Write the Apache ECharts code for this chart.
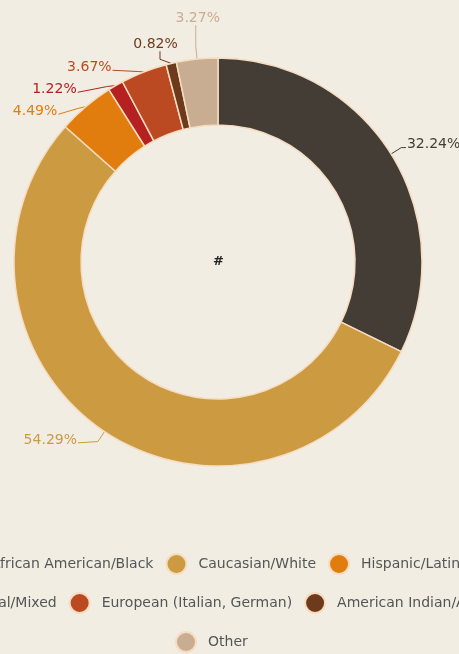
<!DOCTYPE html>
<html>
<head>
<meta charset="utf-8">
<script src="https://cdn.jsdelivr.net/npm/echarts@6/dist/echarts.min.js"></script>
<style>
html,body{margin:0;padding:0;background:#f1ede3;}
#chart{width:459px;height:654px;}
</style>
</head>
<body>
<div id="chart"></div>
<script>
const categories = ["African American/Black","Caucasian/White","Hispanic/Latino","Multiracial/Mixed","European (Italian, German)","American Indian/Alaska Native","Other"];
const values = [32.24, 54.29, 4.49, 1.22, 3.67, 0.82, 3.27];
const colors = ["#443d35","#cc9a40","#e17c0e","#b52020","#bb4a22","#6e3a1c","#c8ad92"];
const legendRows = [[0,1,2],[3,4,5],[6]];

const chart = echarts.init(document.getElementById('chart'), null, {renderer:'canvas'});
const FONT = '"DejaVu Sans", Verdana, sans-serif';
const legendLeft = [-42, -95, 175];
const legendTop = [553, 592, 631];
// label-line styling per slice (lengths only)
const lineLen = [14, 10, 12, 16, 22, 28, 40];
const lineLen2 = [2, 20, 6, 6, 6, 4, 2];
const bendLen = [12, 12, 8, 8, 6, 12, 13];
// small nudges of the labels
const labelDx = [0, 0, 18, 22, 36, 67, 31];
const labelDy = [-2, 0, -4, -2, 0, 1, -1];

const legends = legendRows.map((row, i) => ({
  data: row.map(k => categories[k]),
  orient: 'horizontal',
  left: legendLeft[i],
  top: legendTop[i],
  width: 900,
  padding: 0,
  icon: 'circle',
  itemWidth: 20,
  itemHeight: 20,
  itemGap: 12,
  textStyle: {fontFamily: FONT, fontSize: 14, color: '#555', padding: [0,0,0,7]}
}));

chart.setOption({
  backgroundColor: '#f1ede3',
  color: colors,
  animation: false,
  legend: legends,
  graphic: [{
    type: 'text', left: 213, top: 255,
    style: {text: '#', fontFamily: FONT, fontSize: 13, fontWeight: 'bold', fill: '#222'}
  }],
  series: [{
    type: 'pie',
    center: [218, 262],
    radius: [137, 204],
    startAngle: 90,
    clockwise: true,
    avoidLabelOverlap: true,
    itemStyle: {borderColor: '#f6dcc0', borderWidth: 1.5},
    label: {
      show: true,
      formatter: p => p.value.toFixed(2) + '%',
      fontFamily: FONT,
      fontSize: 14,
      lineHeight: 22,
      color: 'inherit',
      overflow: 'none',
      distanceToLabelLine: 2
    },
    labelLine: {show: true, length: 12, length2: 6, smooth: false, lineStyle: {width: 1}},
    labelLayout: p => {
      const i = p.dataIndex;
      const dx = labelDx[i], dy = labelDy[i];
      const r = p.labelRect, pts = p.labelLinePoints;
      const res = {dx: dx, dy: dy};
      if (!pts) return res;
      const p0 = pts[0], p1 = pts[1];
      const vx = p1[0] - p0[0], vy = p1[1] - p0[1];
      const len = Math.hypot(vx, vy) || 1;
      const b = [p0[0] + vx / len * bendLen[i], p0[1] + vy / len * bendLen[i]];
      const left = r.x + dx, right = left + r.width, cy = r.y + dy + r.height / 2;
      let e;
      if (b[0] > right) e = [right + 1, cy + 3];
      else if (b[0] < left) e = [left - 1, cy + 3];
      else e = [b[0], cy + 7];
      res.labelLinePoints = [p0, b, e];
      return res;
    },
    emphasis: {disabled: true},
    data: categories.map((c, i) => ({
      name: c, value: values[i],
      labelLine: {length: lineLen[i], length2: lineLen2[i]}
    }))
  }]
});
</script>
</body>
</html>
